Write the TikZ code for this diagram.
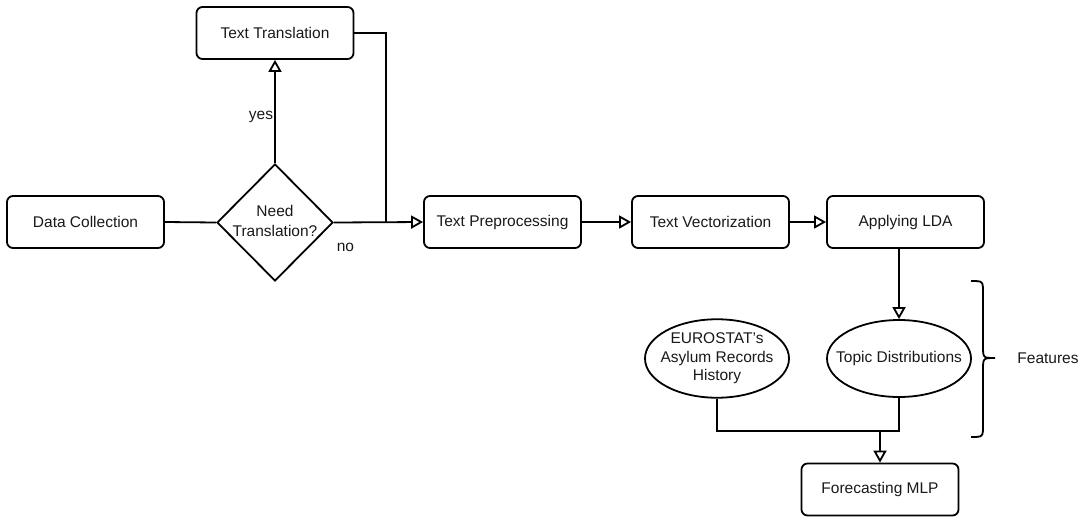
\documentclass[tikz,border=0pt]{standalone}
\usepackage{fontspec}
\setmainfont{Liberation Sans}
\usetikzlibrary{shapes.geometric,arrows.meta}
\newcommand{\zw}[1]{\makebox[0pt]{\begin{tabular}{@{}c@{}}#1\end{tabular}}}
\tikzset{
  every node/.style={font=\fontsize{15.5}{18.5}\selectfont, text=black!90},
  stepbox/.style={draw, line width=1.8pt, rounded corners=6pt, minimum width=157pt, minimum height=52pt, inner sep=0pt},
  decision/.style={draw, diamond, line width=1.8pt, minimum width=116pt, minimum height=117pt, inner sep=0pt, font=\fontsize{15.5}{20}\selectfont},
  feature/.style={draw, ellipse, line width=1.8pt, minimum width=144pt, minimum height=77pt, inner sep=0pt},
  conn/.style={line width=1.8pt},
  arr/.style={conn, -{Triangle[open,length=12pt,width=13pt,line width=1.8pt,fill=white]}},
  lbl/.style={inner sep=1pt}
}
\begin{document}
\begin{tikzpicture}[x=1pt,y=-1pt]
\useasboundingbox (0,0) rectangle (1086,517);
\node[stepbox] (dc) at (85.5,222) {Data Collection};
\node[decision] (need) at (275,222.5) {\zw{Need\\Translation?}};
\node[stepbox] (tt) at (275,33) {Text Translation};
\node[stepbox] (tp) at (502.5,222) {Text Preprocessing};
\node[stepbox] (tv) at (710.5,222) {Text Vectorization};
\node[stepbox] (lda) at (905.5,222) {Applying LDA};
\node[feature] (eu) at (717,358.5) {\zw{EUROSTAT's\\Asylum Records\\History}};
\node[feature] (td) at (899,358.5) {\zw{Topic Distributions}};
\node[stepbox] (fm) at (880,489.5) {Forecasting MLP};
\node (feat) at (1048,358) {Features};
\coordinate (j) at (386,222);
\coordinate (m) at (880,431);

\draw[conn] (dc.east) -- (need.west);
\draw[arr] (need.north) -- node[lbl, pos=0.45, left] {yes} (tt.south);
\draw[arr] (need.east) -- node[lbl, pos=0.13, yshift=-25pt] {no} (tp.west);
\draw[conn] (tt.east) -| (j);
\draw[arr] (tp.east) -- (tv.west);
\draw[arr] (tv.east) -- (lda.west);
\draw[arr] (lda.south -| td.north) -- (td.north);
\draw[conn] (eu.south) |- (m);
\draw[conn] (td.south) |- (m);
\draw[arr] (m) -- (fm.north);
\draw[line width=1.8pt] (971,281) .. controls (983,281) .. (983,293) -- (983,346)
  .. controls (983,358) .. (995,358) .. controls (983,358) .. (983,370) -- (983,425)
  .. controls (983,437) .. (971,437);
\end{tikzpicture}
\end{document}
